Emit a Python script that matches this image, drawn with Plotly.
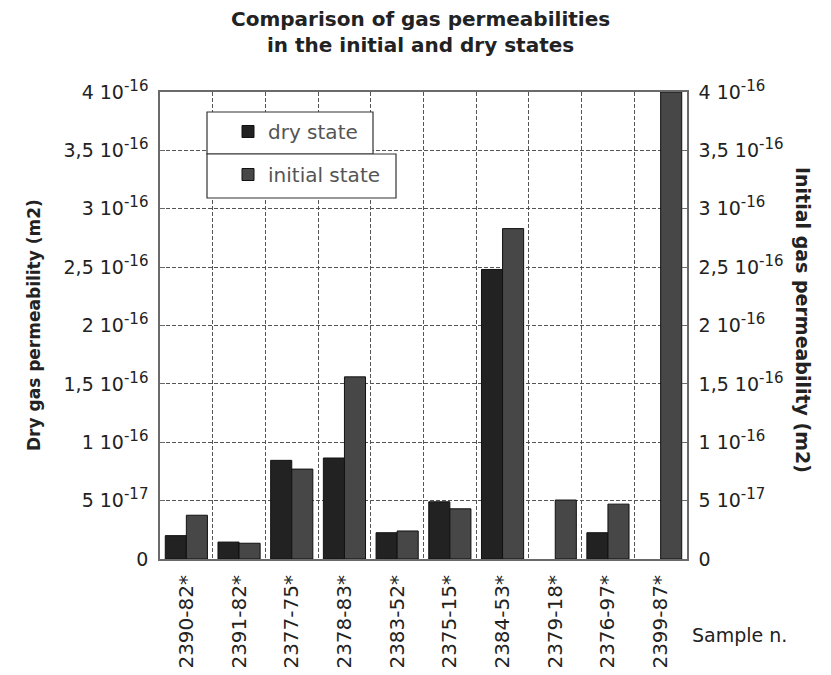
import plotly.graph_objects as go

# Sample identifiers along the category axis
samples = ["2390-82*", "2391-82*", "2377-75*", "2378-83*", "2383-52*",
           "2375-15*", "2384-53*", "2379-18*", "2376-97*", "2399-87*"]

# Gas permeability (m2) in the dry state; None where no measurement exists
dry_state = [2.0e-17, 1.45e-17, 8.45e-17, 8.65e-17, 2.25e-17,
             4.9e-17, 2.48e-16, None, 2.25e-17, None]

# Gas permeability (m2) in the initial state
initial_state = [3.75e-17, 1.35e-17, 7.7e-17, 1.56e-16, 2.4e-17,
                 4.3e-17, 2.83e-16, 5.05e-17, 4.7e-17, 4.0e-16]

# Tick positions, mantissas and exponents (decimal comma notation)
tick_vals = [0, 5e-17, 1e-16, 1.5e-16, 2e-16, 2.5e-16, 3e-16, 3.5e-16, 4e-16]
tick_mantissa = ["0", "5", "1", "1,5", "2", "2,5", "3", "3,5", "4"]
tick_exponent = [None, "-17", "-16", "-16", "-16", "-16", "-16", "-16", "-16"]

FONT = "DejaVu Sans, Liberation Sans, Arial, sans-serif"
TXT = "#222222"
DRY_COLOR = "#222222"
INIT_COLOR = "#474747"
GRID = "#555555"
FRAME = "#6a6a6a"

# plot area in pixels
L, R, T, B = 160, 687, 92, 559
W, H = 831, 675


def px_x(v):
    return (v - L) / (R - L)


def px_y(v):
    return (B - v) / (B - T)


def tick_label(m, e):
    if e is None:
        return m
    return f"{m} 10<sup><span style='font-size:15px'>{e}</span></sup>"


tick_text = [tick_label(m, e) for m, e in zip(tick_mantissa, tick_exponent)]

fig = go.Figure()
fig.add_trace(go.Bar(
    x=samples, y=dry_state, name="dry state",
    marker=dict(color=DRY_COLOR, line=dict(color="#111111", width=1)),
    offsetgroup="dry", legendgroup="dry", yaxis="y",
))
fig.add_trace(go.Bar(
    x=samples, y=initial_state, name="initial state",
    marker=dict(color=INIT_COLOR, line=dict(color="#111111", width=1)),
    offsetgroup="initial", legendgroup="initial", yaxis="y2",
))

axis_common = dict(
    range=[0, 4e-16], tickvals=tick_vals, ticktext=tick_text,
    ticks="inside", ticklen=5, tickcolor=FRAME,
    tickfont=dict(family=FONT, size=19, color=TXT),
    ticklabelstandoff=6,
    showline=True, linecolor=FRAME, linewidth=1.5,
    zeroline=False, fixedrange=True,
)

fig.update_layout(
    width=W, height=H,
    margin=dict(l=L, r=W - R, t=T, b=H - B, autoexpand=False),
    paper_bgcolor="white", plot_bgcolor="white",
    barmode="group", bargap=0.2, bargroupgap=0.0,
    font=dict(family=FONT, size=19, color=TXT),
    xaxis=dict(
        type="category", tickson="boundaries",
        showgrid=True, gridcolor=GRID, griddash="4px,2px", gridwidth=1,
        ticks="", tickangle=-90, ticklabelstandoff=6,
        tickfont=dict(family=FONT, size=20, color=TXT),
        showline=True, linecolor=FRAME, linewidth=2, mirror=True,
        range=[-0.5, 9.5],
    ),
    yaxis=dict(
        **axis_common, side="left",
        showgrid=True, gridcolor=GRID, griddash="4px,2px", gridwidth=1,
    ),
    yaxis2=dict(
        **axis_common, side="right", overlaying="y",
        showgrid=False,
    ),
    legend=dict(
        x=px_x(228), y=px_y(112),
        xanchor="left", yanchor="top",
        bgcolor="rgba(0,0,0,0)", borderwidth=0,
        font=dict(family=FONT, size=20, color="#555555"),
        traceorder="grouped", tracegroupgap=14,
        itemwidth=30,
    ),
    showlegend=True,
)

# Legend frames: one box per entry
for x0, x1, y0, y1 in [(207, 373, 112, 154), (207, 396, 154, 198)]:
    fig.add_shape(type="rect", xref="paper", yref="paper",
                  x0=px_x(x0), x1=px_x(x1), y0=px_y(y1), y1=px_y(y0),
                  line=dict(color="#333333", width=1.2),
                  fillcolor="white", layer="above")

# Chart title
fig.add_annotation(
    text="<b>Comparison of gas permeabilities<br>in the initial and dry states</b>",
    xref="paper", yref="paper", x=px_x(420), y=px_y(32),
    xanchor="center", yanchor="middle", showarrow=False,
    font=dict(family=FONT, size=20, color=TXT),
)

# Axis titles and category caption
fig.add_annotation(text="<b>Dry gas permeability (m2)</b>", xref="paper", yref="paper",
                   x=px_x(22), y=px_y(325), textangle=-90, showarrow=False,
                   font=dict(family=FONT, size=17, color=TXT))
fig.add_annotation(text="<b>Initial gas permeability (m2)</b>", xref="paper", yref="paper",
                   x=px_x(816), y=px_y(320), textangle=90, showarrow=False,
                   font=dict(family=FONT, size=19, color=TXT))
fig.add_annotation(text="Sample n.", xref="paper", yref="paper",
                   x=px_x(690), y=px_y(648), xanchor="left", showarrow=False,
                   font=dict(family=FONT, size=19, color=TXT))

fig.write_html("out.html")
